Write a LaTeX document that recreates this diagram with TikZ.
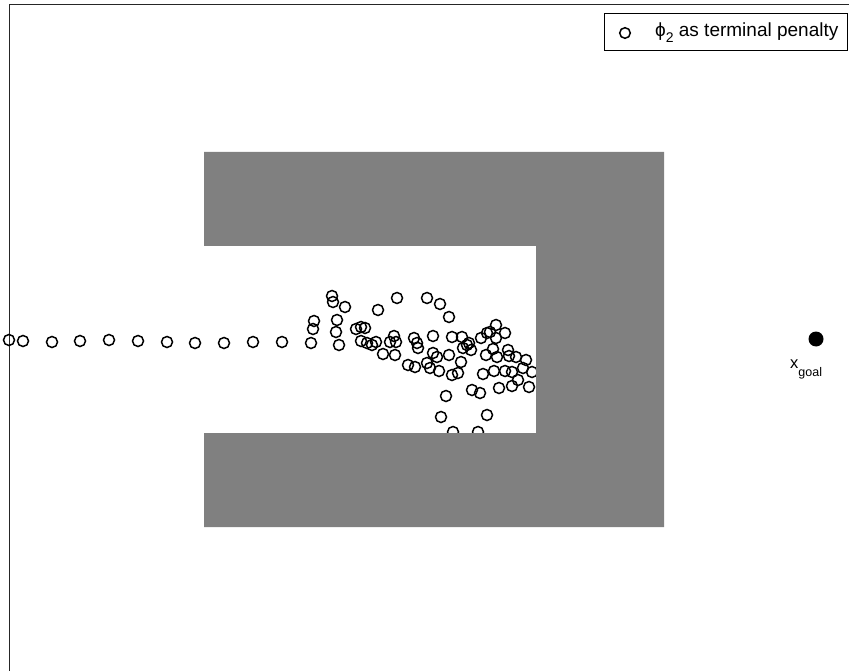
\documentclass[tikz,border=0pt]{standalone}
\usepackage{fontspec}
\setmainfont{Liberation Sans}
\usepackage{tikz}
\usetikzlibrary{positioning}
\definecolor{obsc}{HTML}{808080}
\definecolor{axc}{HTML}{262626}
\tikzset{
  mk/.style={draw=black,line width=1.5pt},
  obst/.style={fill=obsc,draw=none},
  lbl/.style={inner sep=0pt,font=\fontsize{16.5}{18}\selectfont},
  legb/.style={draw=black,line width=0.8pt,fill=white,inner sep=0pt}
}
\begin{document}
\begin{tikzpicture}[x=1pt,y=-1pt]
\useasboundingbox[fill=white] (0,0) rectangle (849,671);
\draw[axc,line width=1pt] (9,671)--(9,5)--(849,5);
\foreach \x/\y in {9/340,23/341,52/342,80/341,109/340,138/341,167/342,195/343,224/343,253/342,282/342,311/343}
  \draw[mk] (\x,\y) circle (5.5);
\foreach \x/\y in {332/296,333/302,345/307,397/298,378/310,314/321,313/329,337/320,336/332,339/345,356/329,361/327,365/328,361/341,367/343,372/345,376/342,383/354,394/336,390/342,396/342,395/355,408/365,415/367,414/338,417/343,418/348,
  427/298,440/304,449/317,433/336,452/337,462/337,463/348,467/345,469/343,471/350,481/338,487/333,490/332,496/325,505/333,496/338,493/349,486/355,497/357,508/350,509/356,516/357,526/360,433/353,437/357,449/355,461/362,427/363,430/368,439/371,452/375,458/373,483/374,494/371,505/371,512/372,523/368,532/372,499/388,512/386,518/380,529/387,472/390,480/393,446/396,441/417,487/415,453/432,478/432}
  \draw[mk] (\x,\y) circle (5.5);
\fill[obst] (204,152)--(664,152)--(664,527)--(204,527)--(204,433)--(536,433)--(536,246)--(204,246)--cycle;
\node[circle,fill=black,minimum size=15,inner sep=0pt] (goal) at (816,339) {};
\node[lbl,anchor=base west] (xg) at (790,368) {x\raisebox{-8pt}{\fontsize{12.5}{13}\selectfont goal}};
\node[legb,anchor=north west,minimum width=243,minimum height=37] (leg) at (604,13) {};
\draw[mk] (625,33) circle (5.3);
\node[inner sep=0pt,anchor=base west,font=\fontsize{19}{21}\selectfont] (legtxt) at (655,37) {ϕ\raisebox{-6pt}{\fontsize{14}{14}\selectfont 2} as terminal penalty};
\end{tikzpicture}
\end{document}
